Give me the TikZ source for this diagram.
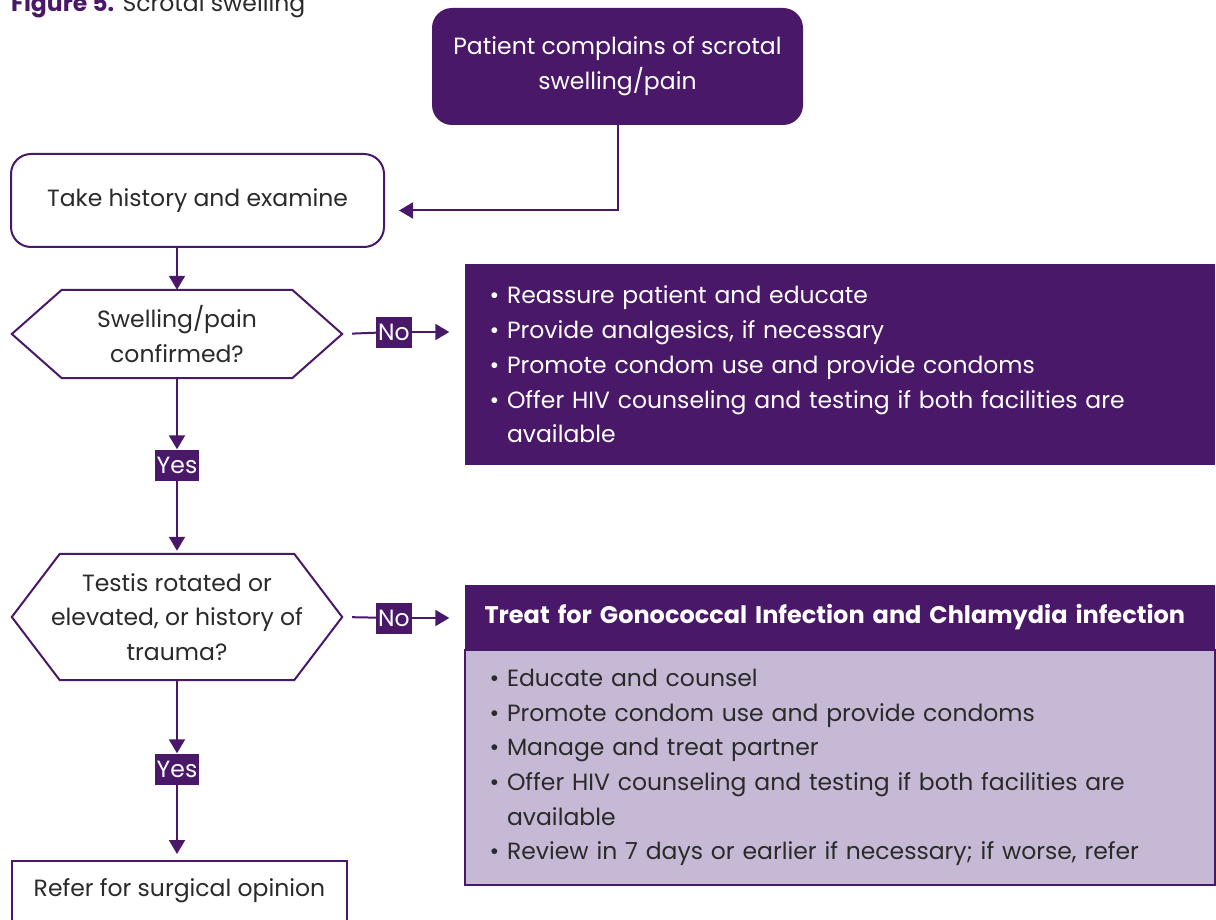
\documentclass[tikz,border=0pt]{standalone}
\usepackage{fontspec}
\setmainfont{Poppins}
\usetikzlibrary{arrows.meta, positioning, calc}

\definecolor{plum}{HTML}{4A1868}
\definecolor{lilac}{HTML}{C5B9D6}
\definecolor{ink}{HTML}{2B2A29}

\tikzset{
  txt/.style={font=\fontsize{23.5}{34.7}\selectfont},
  box/.style={txt, draw=plum, line width=2pt, text=ink, align=center},
  darkbox/.style={txt, fill=plum, text=white, align=center},
  hexa/.style={txt, text=ink, align=center, minimum width=330pt},
  tag/.style={txt, fill=plum, text=white, inner sep=2pt, minimum height=31pt},
  link/.style={plum, line width=2pt},
  flow/.style={link, -{Triangle[length=14pt,width=16pt]}},
}

\begin{document}
\begin{tikzpicture}[x=1pt, y=-1pt]
    \useasboundingbox (0,0) rectangle (1216,920);
    \clip (0,0) rectangle (1216,920);
    \fill[white] (0,0) rectangle (1216,920);

    \node[anchor=base west, txt, inner sep=0pt] (title) at (11,12)
      {\textcolor{plum}{\bfseries Figure 5.} \textcolor{ink}{Scrotal swelling}};

    \node[darkbox, rounded corners=20pt, minimum width=371pt, minimum height=117pt] (top) at (617.5,66.5)
      {Patient complains of scrotal\\swelling/pain};
    \node[box, rounded corners=20pt, minimum width=373pt, minimum height=93pt] (hist) at (197.5,200.5)
      {Take history and examine};
    \node[hexa, minimum height=88pt] (hx1) at (177,334) {Swelling/pain\\confirmed?};
    \node[hexa, minimum height=126pt] (hx2) at (177,617) {Testis rotated or\\elevated, or history of\\trauma?};
    \node[box, minimum width=335pt, minimum height=60pt] (refer) at (179.5,891) {Refer for surgical opinion};

    \node[tag] (no1) at (394,332) {No};
    \node[tag] (no2) at (394,618) {No};
    \node[tag] (yes1) at (177,465) {Yes};
    \node[tag] (yes2) at (177,769) {Yes};

    \node[darkbox, align=left, text width=700pt, inner xsep=25pt, minimum height=201pt] (adv) at (839.5,364.5)
      {\textbullet\ Reassure patient and educate\\
       \textbullet\ Provide analgesics, if necessary\\
       \textbullet\ Promote condom use and provide condoms\\
       \textbullet\ Offer HIV counseling and testing if both facilities are\\
       \hphantom{\textbullet\ }available};
    \node[darkbox, font=\fontsize{24}{28}\selectfont\bfseries, align=left, text width=710pt, inner xsep=20pt, minimum height=65pt] (treat) at (839.5,617.5)
      {Treat for Gonococcal Infection and Chlamydia infection};
    \node[box, fill=lilac, align=left, text width=700pt, inner xsep=25pt, minimum height=235pt] (care) at (839.5,767.5)
      {\textbullet\ Educate and counsel\\
       \textbullet\ Promote condom use and provide condoms\\
       \textbullet\ Manage and treat partner\\
       \textbullet\ Offer HIV counseling and testing if both facilities are\\
       \hphantom{\textbullet\ }available\\
       \textbullet\ Review in 7 days or earlier if necessary; if worse, refer};

    \foreach \h/\d in {hx1/50, hx2/48}
      \draw[link] ($(\h.north west)+(\d,0)$) -- ($(\h.north east)+(-\d,0)$) -- (\h.east)
        -- ($(\h.south east)+(-\d,0)$) -- ($(\h.south west)+(\d,0)$) -- (\h.west) -- cycle;

    \draw[flow, shorten >=14pt] (top.south) |- ($(hist.east)+(0,10)$);
    \draw[flow] (hist.south -| hx1) -- (hx1.north);
    \draw[link, shorten <=10pt] (hx1.east) -- (no1);
    \draw[flow, shorten >=15pt] (no1) -- (adv.west |- no1);
    \draw[flow] (hx1.south) -- (yes1);
    \draw[flow, shorten >=3pt] (yes1) -- (hx2.north);
    \draw[link, shorten <=10pt] (hx2.east) -- (no2);
    \draw[flow, shorten >=15pt] (no2) -- (treat.west |- no2);
    \draw[flow] (hx2.south) -- (yes2);
    \draw[flow, shorten >=6pt] (yes2) -- (yes2 |- refer.north);
\end{tikzpicture}
\end{document}
